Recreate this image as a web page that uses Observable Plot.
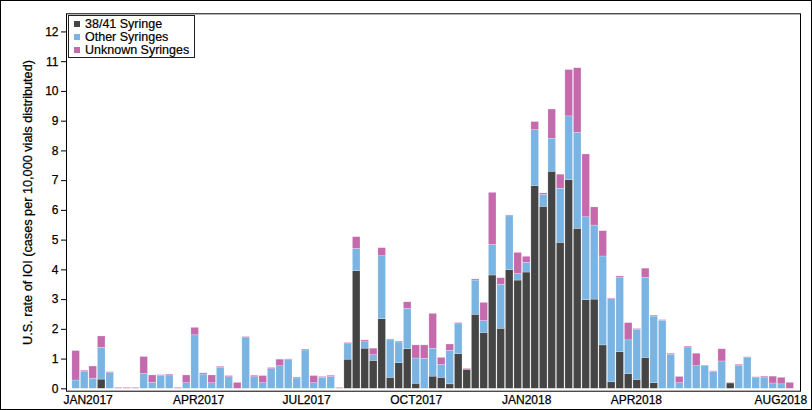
<!DOCTYPE html>
<html>
<head>
<meta charset="utf-8">
<script src="https://cdn.jsdelivr.net/npm/d3@7"></script>
<script src="https://cdn.jsdelivr.net/npm/@observablehq/plot@0.6"></script>
<style>
  html, body { margin: 0; padding: 0; background: #fff; }
  #wrap { position: relative; width: 812px; height: 410px; box-sizing: border-box; border: 1px solid #000; background: #fff; font-family: "Liberation Sans", Arial, Helvetica, sans-serif; }
  #wrap svg { display: block; }
  #wrap svg text { stroke: #000; stroke-width: 0.25px; }
  #legend { position: absolute; left: 67px; top: 14px; width: 127px; height: 43px; border: 1px solid #222; background: #fff; box-sizing: border-box; padding: 1.5px 0 0 5px; font-size: 12.5px; line-height: 13px; color: #000; -webkit-text-stroke: 0.2px #000; }
  #legend .row { display: flex; align-items: center; height: 13px; white-space: nowrap; }
  #legend .sw { width: 6px; height: 6px; margin-right: 5px; flex: none; -webkit-text-stroke: 0; }
</style>
</head>
<body>
<div id="wrap"><div id="chart"></div><div id="legend"></div></div>
<script>
// Weekly bars, Jan 2017 – Aug 2018 (85 weeks)
const series = ["38/41 Syringe", "Other Syringes", "Unknown Syringes"];
const colors = ["#454545", "#7ab4e2", "#c56bad"];

const syringe3841 = [
  0, 0, 0, 0.31, 0, 0, 0, 0, 0, 0,
  0, 0, 0, 0, 0, 0, 0, 0, 0, 0,
  0, 0, 0, 0, 0, 0, 0, 0, 0, 0,
  0, 0, 0.98, 3.96, 1.35, 0.94, 2.34, 0.37, 0.86, 1.33,
  0.17, 0, 0.41, 0.37, 0.15, 1.17, 0.64, 2.49, 1.88, 3.81,
  2.02, 3.99, 3.64, 3.91, 6.82, 6.12, 7.30, 4.91, 7.02, 5.38,
  2.98, 3.00, 1.46, 0.22, 1.23, 0.50, 0.30, 1.04, 0.19, 0,
  0, 0, 0, 0, 0, 0, 0, 0.18, 0, 0,
  0, 0, 0, 0, 0
];
const otherSyringes = [
  0.28, 0.58, 0.34, 1.07, 0.53, 0, 0, 0, 0.50, 0.20,
  0.43, 0.45, 0, 0.19, 1.80, 0.48, 0.19, 0.70, 0.39, 0,
  1.70, 0.39, 0.19, 0.66, 0.76, 0.96, 0.35, 1.29, 0.19, 0.37,
  0.40, 0, 0.52, 0.75, 0.24, 0.19, 2.12, 1.26, 0.70, 1.36,
  0.85, 1.01, 0.94, 0.43, 1.13, 1.00, 0, 1.15, 0.40, 1.03,
  1.48, 1.81, 0.22, 0.33, 1.88, 0.40, 1.11, 1.82, 2.14, 3.23,
  2.79, 2.49, 2.99, 2.80, 2.51, 1.13, 1.68, 2.69, 2.24, 2.29,
  1.15, 0.19, 1.39, 0.76, 0.76, 0.57, 0.92, 0, 0.78, 1.03,
  0.36, 0.38, 0.18, 0.15, 0
];
const unknownSyringes = [
  0.99, 0.03, 0.41, 0.38, 0.03, 0.03, 0.03, 0.03, 0.57, 0.25,
  0.03, 0.03, 0.03, 0.26, 0.25, 0.04, 0.26, 0.04, 0.04, 0.20,
  0.04, 0.05, 0.24, 0.04, 0.22, 0.03, 0.03, 0.03, 0.24, 0.03,
  0.04, 0.03, 0.04, 0.39, 0.04, 0.22, 0.27, 0.03, 0.03, 0.22,
  0.44, 0.45, 1.17, 0.24, 0.21, 0.04, 0.03, 0.04, 0.61, 1.75,
  0.22, 0.03, 0.71, 0.20, 0.27, 0.05, 0.98, 0.47, 1.56, 2.17,
  2.11, 0.61, 0.85, 0.02, 0.04, 0.58, 0.03, 0.31, 0.03, 0.02,
  0.03, 0.21, 0.03, 0.42, 0.02, 0.02, 0.41, 0.02, 0.03, 0.03,
  0.03, 0.03, 0.23, 0.22, 0.20
];

// x-axis tick labels and their week positions
const tickLabels = ["JAN2017", "APR2017", "JUL2017", "OCT2017", "JAN2018", "APR2018", "AUG2018"];
const tickWeeks = [1.9, 14.9, 27.6, 40.5, 53.5, 66.4, 83.4];
const yTicks = [0, 1, 2, 3, 4, 5, 6, 7, 8, 9, 10, 11, 12];

const valuesBySeries = [syringe3841, otherSyringes, unknownSyringes];
const rows = [];
for (let i = 0; i < syringe3841.length; i++) {
  series.forEach((s, k) => rows.push({week: i, series: s, value: valuesBySeries[k][i]}));
}
const labelOf = new Map(tickWeeks.map((w, i) => [w, tickLabels[i]]));

const chart = Plot.plot({
  width: 810,
  height: 408,
  marginLeft: 65,
  marginRight: 11,
  marginTop: 12.3,
  marginBottom: 18.3,
  style: {fontFamily: "'Liberation Sans', Arial, Helvetica, sans-serif", fontSize: "12px", color: "#000", background: "#fff"},
  x: {type: "linear", domain: [-0.64, 85.71]},
  y: {domain: [-0.08, 12.61]},
  color: {domain: series, range: colors},
  marks: [
    Plot.rectY(rows, {
      x: "week", interval: 1, y: "value", fill: "series",
      insetLeft: 0.45, insetRight: 0.45,
      stroke: "#fff", strokeOpacity: 0.45, strokeWidth: 0.5
    }),
    Plot.axisY({ticks: yTicks, tickSize: 5, tickPadding: 3, label: null, fontSize: 12}),
    Plot.axisY({ticks: [], tickSize: 0, label: "U.S. rate of IOI (cases per 10,000 vials distributed)", labelAnchor: "center", labelArrow: "none", labelOffset: 44, fontSize: 12.7}),
    Plot.axisX({ticks: tickWeeks, tickSize: 0, tickPadding: 4, tickFormat: d => labelOf.get(d), label: null, fontSize: 12}),
    Plot.frame({stroke: "#000", strokeWidth: 1})
  ]
});
document.getElementById("chart").appendChild(chart);

const legend = document.getElementById("legend");
series.forEach((s, k) => {
  const row = document.createElement("div");
  row.className = "row";
  const sw = document.createElement("span");
  sw.className = "sw";
  sw.style.background = colors[k];
  const t = document.createElement("span");
  t.textContent = s;
  row.appendChild(sw);
  row.appendChild(t);
  legend.appendChild(row);
});
</script>
</body>
</html>
